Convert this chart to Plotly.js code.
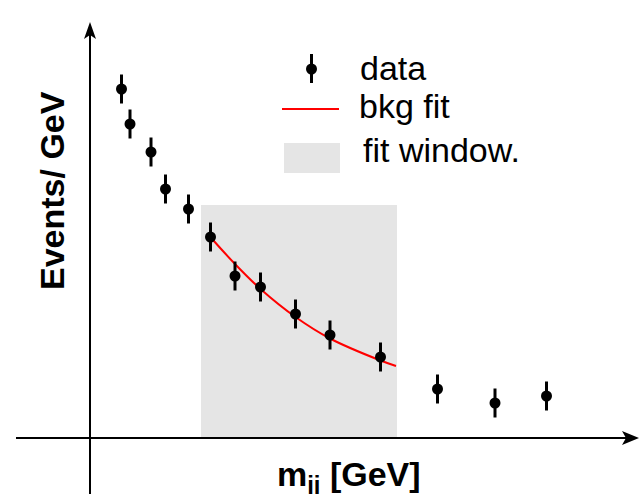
<!DOCTYPE html>
<html><head><meta charset="utf-8">
<script src="https://cdn.plot.ly/plotly-3.0.1.min.js"></script>
<style>body{margin:0;background:#fff}</style>
</head><body>
<div id="chart" style="width:640px;height:494px"></div>
<script>
// ---- data ----
const massGeV      = [63, 80, 122, 151, 197, 241, 290, 341, 411, 480, 581, 695, 810, 913];
const eventsPerGeV = [34.9, 31.4, 28.6, 24.9, 22.9, 20.1, 16.2, 15.1, 12.4, 10.3, 8.1, 4.9, 3.5, 4.2];
const eventsErr    = [1.45, 1.45, 1.45, 1.45, 1.45, 1.45, 1.45, 1.45, 1.45, 1.45, 1.45, 1.45, 1.45, 1.45];
const fitMass      = [246, 290, 341, 411, 480, 581, 612];
const fitValues    = [19.8, 17.4, 14.9, 12.1, 9.95, 7.75, 7.2];
const fitWindow    = [222, 614];
const fitWindowTop = [23.3];
const legendLabels = ['data', 'bkg fit', 'fit window.'];
const xTitle = 'm<sub>jj</sub> [GeV]';
const yTitle = 'Events/ GeV';

const FONT = '"Liberation Sans", Arial, Helvetica, sans-serif';
const W = 640, H = 494;
const px = v => v / W;          // pixel -> paper x
const py = v => 1 - v / H;      // pixel -> paper y

const traces = [
  {
    x: fitMass, y: fitValues, type: 'scatter', mode: 'lines', name: legendLabels[1],
    line: {color: '#ff0000', width: 2, shape: 'spline', smoothing: 1}, hoverinfo: 'skip'
  },
  {
    x: massGeV, y: eventsPerGeV, type: 'scatter', mode: 'markers', name: legendLabels[0],
    marker: {color: '#000', size: 11},
    error_y: {type: 'data', array: eventsErr, visible: true, thickness: 3, width: 0, color: '#000'}
  }
];

const shapes = [
  // fit window
  {type: 'rect', xref: 'x', yref: 'y', x0: fitWindow[0], x1: fitWindow[1], y0: 0, y1: fitWindowTop[0],
   fillcolor: '#e5e5e5', line: {width: 0}, layer: 'below'},
  // y axis line + arrow
  {type: 'line', xref: 'x', yref: 'paper', x0: 0, x1: 0, y0: -0.02, y1: py(32),
   line: {color: '#000', width: 2}},
  {type: 'path', xref: 'x', xsizemode: 'pixel', xanchor: 0, yref: 'paper', ysizemode: 'pixel', yanchor: py(22),
   path: 'M0,0 L-6,-17 L0,-13 L6,-17 Z', fillcolor: '#000', line: {width: 0}},
  // x axis line + arrow
  {type: 'line', xref: 'paper', yref: 'y', x0: px(16), x1: px(628), y0: 0, y1: 0,
   line: {color: '#000', width: 2}},
  {type: 'path', xref: 'paper', xsizemode: 'pixel', xanchor: px(639), yref: 'y', ysizemode: 'pixel', yanchor: 0,
   path: 'M0,0 L-17,7 L-13,0 L-17,-7 Z', fillcolor: '#000', line: {width: 0}},
  // legend: data
  {type: 'line', xref: 'paper', yref: 'paper', x0: px(311.5), x1: px(311.5), y0: py(54), y1: py(83),
   line: {color: '#000', width: 3}},
  {type: 'circle', xref: 'paper', xsizemode: 'pixel', xanchor: px(311.5), x0: -5.5, x1: 5.5,
   yref: 'paper', ysizemode: 'pixel', yanchor: py(69), y0: -5.5, y1: 5.5, fillcolor: '#000', line: {width: 0}},
  // legend: bkg fit
  {type: 'line', xref: 'paper', yref: 'paper', x0: px(282), x1: px(339), y0: py(109), y1: py(109),
   line: {color: '#ff0000', width: 2}},
  // legend: fit window
  {type: 'rect', xref: 'paper', yref: 'paper', x0: px(284), x1: px(340), y0: py(173), y1: py(143),
   fillcolor: '#e5e5e5', line: {width: 0}}
];

const legFont = {family: FONT, size: 34, color: '#000'};
const titleFont = {family: FONT, size: 34, color: '#000', weight: 'bold'};
const annotations = [
  {text: legendLabels[0], xref: 'paper', yref: 'paper', x: px(358), y: py(68), xanchor: 'left', yanchor: 'middle', showarrow: false, font: legFont},
  {text: legendLabels[1], xref: 'paper', yref: 'paper', x: px(357), y: py(106), xanchor: 'left', yanchor: 'middle', showarrow: false, font: legFont},
  {text: legendLabels[2], xref: 'paper', yref: 'paper', x: px(361), y: py(150), xanchor: 'left', yanchor: 'middle', showarrow: false, font: legFont},
  {text: yTitle, xref: 'paper', yref: 'paper', x: px(52), y: py(191), xanchor: 'center', yanchor: 'middle', textangle: -90, showarrow: false, font: titleFont},
  {text: xTitle, xref: 'paper', yref: 'paper', x: px(349), y: py(476), xanchor: 'center', yanchor: 'middle', showarrow: false, font: titleFont}
];

const layout = {
  width: W, height: H,
  margin: {l: 0, r: 0, t: 0, b: 0},
  paper_bgcolor: '#fff', plot_bgcolor: '#fff',
  showlegend: false,
  xaxis: {range: [-180, 1100], visible: false, fixedrange: true},
  yaxis: {range: [-5.6, 43.8], visible: false, fixedrange: true},
  shapes: shapes,
  annotations: annotations,
  font: {family: FONT}
};

Plotly.newPlot('chart', traces, layout, {displayModeBar: false, staticPlot: true});
</script>
</body></html>
